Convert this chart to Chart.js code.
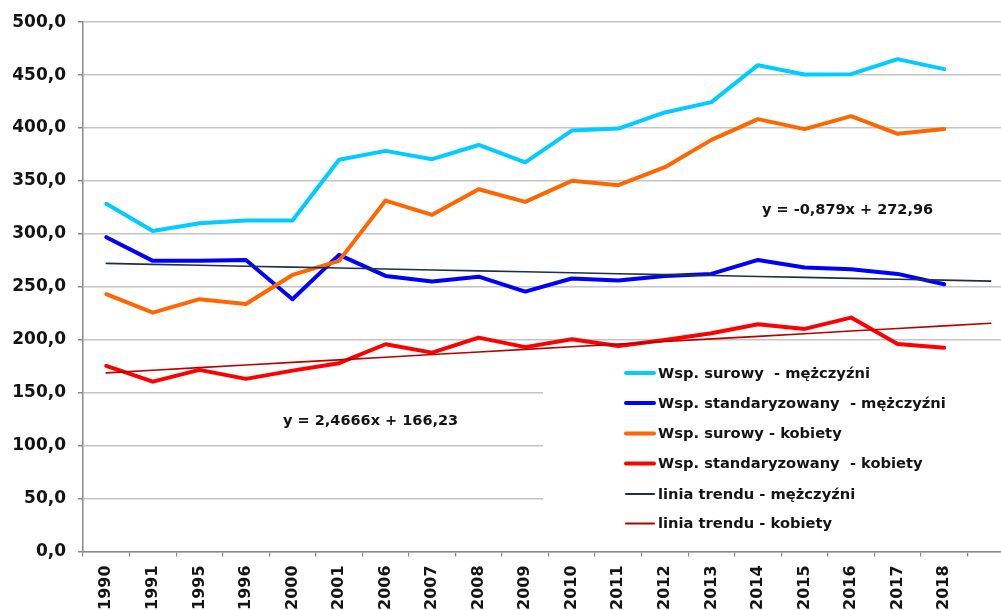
<!DOCTYPE html>
<html>
<head>
<meta charset="utf-8">
<script src="https://cdn.jsdelivr.net/npm/chart.js@4/dist/chart.umd.min.js"></script>
<style>
html,body{margin:0;padding:0;background:#fff;overflow:hidden;width:1001px;height:610px;}
canvas{display:block;position:absolute;left:0;top:0;}
</style>
</head>
<body>
<canvas id="c" width="1015" height="610"></canvas>
<script>
const categories = ['1990','1991','1995','1996','2000','2001','2006','2007','2008','2009','2010','2011','2012','2013','2014','2015','2016','2017','2018',''];
const surowyM = [328.4,302.8,310.0,312.6,312.6,370.0,378.4,370.6,384.0,367.6,397.6,399.5,414.7,424.5,459.4,450.6,450.9,465.1,455.7];
const standM  = [296.9,274.5,274.5,275.4,238.3,280.2,260.3,255.0,259.6,245.5,257.8,255.9,260.3,262.2,275.4,268.2,266.6,262.2,252.4];
const surowyK = [243.0,225.6,238.3,233.8,261.2,274.5,331.5,318.0,342.2,330.3,350.1,346.0,363.0,388.8,408.4,399.0,411.2,394.5,399.0];
const standK  = [175.2,160.4,171.5,163.0,170.8,177.8,195.7,187.8,202.0,193.0,200.5,194.1,199.8,206.1,214.6,210.2,220.9,196.0,192.5];
const trendM  = [272.1,271.2,270.3,269.4,268.6,267.7,266.8,265.9,265.0,264.2,263.3,262.4,261.5,260.7,259.8,258.9,258.0,257.1,256.3,255.4];
const trendK  = [168.7,171.2,173.6,176.1,178.6,181.0,183.5,186.0,188.4,190.9,193.4,195.8,198.3,200.8,203.2,205.7,208.2,210.6,213.1,215.6];
const seriesLabels = ['Wsp. surowy  - mężczyźni','Wsp. standaryzowany  - mężczyźni','Wsp. surowy - kobiety','Wsp. standaryzowany  - kobiety','linia trendu - mężczyźni','linia trendu - kobiety'];
const trendTexts = ['y = -0,879x + 272,96','y = 2,4666x + 166,23'];
const yMin = 0, yMax = 500, yStep = 50;

const FONT = '"DejaVu Sans", Verdana, sans-serif';
const TXT = '#141414';

const mk = (label, data, color, width, order) => ({
  label, data, borderColor: color, backgroundColor: color, borderWidth: width,
  pointRadius: 0, tension: 0, fill: false, order,
  borderJoinStyle: 'round', borderCapStyle: 'round'
});

const legendPlugin = {
  id: 'legendBox',
  beforeDatasetsDraw(chart) {
    const ctx = chart.ctx, a = chart.chartArea;
    ctx.save();
    ctx.fillStyle = '#fff';
    ctx.fillRect(543, 356, a.right - 543, a.bottom - 356 - 1);
    ctx.restore();
  },
  afterDatasetsDraw(chart) {
    const ctx = chart.ctx;
    ctx.save();
    const rows = [373, 403, 433.5, 463.5, 494, 523.5];
    chart.data.datasets.forEach((ds, i) => {
      const y = rows[i];
      ctx.strokeStyle = ds.borderColor;
      ctx.lineWidth = i < 4 ? 4 : 2;
      ctx.lineCap = 'round';
      ctx.beginPath(); ctx.moveTo(626, y); ctx.lineTo(654, y); ctx.stroke();
      ctx.fillStyle = TXT;
      ctx.font = 'bold 14.7px ' + FONT;
      ctx.textBaseline = 'middle';
      ctx.textAlign = 'left';
      ctx.fillText(ds.label, 658, y + 1);
    });
    ctx.font = 'bold 14.5px ' + FONT;
    ctx.fillText(trendTexts[0], 762, 210);
    ctx.fillText(trendTexts[1], 283, 421);
    ctx.restore();
  }
};

new Chart(document.getElementById('c'), {
  type: 'line',
  data: {
    labels: categories,
    datasets: [
      mk(seriesLabels[0], surowyM, '#00CCFF', 4, 6),
      mk(seriesLabels[1], standM,  '#0000FF', 4, 5),
      mk(seriesLabels[2], surowyK, '#FF6600', 4, 4),
      mk(seriesLabels[3], standK,  '#FF0000', 4, 3),
      mk(seriesLabels[4], trendM,  '#1E3048', 1.6, 2),
      mk(seriesLabels[5], trendK,  '#B80000', 1.6, 1)
    ]
  },
  options: {
    responsive: false,
    animation: false,
    devicePixelRatio: 1,
    layout: { padding: { left: 0, top: 22, right: 1, bottom: 0 } },
    plugins: { legend: { display: false }, tooltip: { enabled: false } },
    scales: {
      x: {
        offset: true,
        grid: { display: true, drawOnChartArea: false, drawTicks: true, tickLength: 5, color: '#8a8a8a', lineWidth: 1.2, offset: true },
        border: { display: true, color: '#8a8a8a', width: 1.5 },
        ticks: {
          autoSkip: false, maxRotation: 90, minRotation: 90, padding: 9,
          color: TXT, font: { family: FONT, size: 16, weight: 'bold' }
        },
        afterFit(s) { s.height = 58.6; s.paddingRight = 0; s.paddingLeft = 0; }
      },
      y: {
        min: yMin, max: yMax,
        ticks: {
          stepSize: yStep, padding: 12, color: TXT,
          font: { family: FONT, size: 17, weight: 'bold' },
          callback: v => v.toFixed(1).replace('.', ',')
        },
        grid: { color: '#c4c4c4', lineWidth: 1.5, drawTicks: true, tickLength: 5, tickColor: '#8a8a8a' },
        border: { display: true, color: '#8a8a8a', width: 1.5 },
        afterFit(s) { s.width = 83; }
      }
    }
  },
  plugins: [legendPlugin]
});
</script>
</body>
</html>
